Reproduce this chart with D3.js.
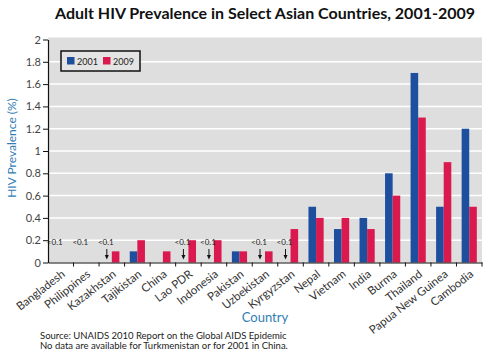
<!DOCTYPE html>
<html lang="en">
<head>
    <meta charset="UTF-8">
    <title>Adult HIV Prevalence in Select Asian Countries</title>
    <script src="https://d3js.org/d3.v7.min.js"></script>
    <style>
        body {
            margin: 0;
            background-color: white;
            font-family: Lato, "Open Sans", sans-serif;
        }
    </style>
</head>
<body>
    <div id="chart"></div>

    <script>
        // Chart data
        const countries = ["Bangladesh", "Philippines", "Kazakhstan", "Tajikistan", "China", "Lao PDR",
            "Indonesia", "Pakistan", "Uzbekistan", "Kyrgyzstan", "Nepal", "Vietnam", "India", "Burma",
            "Thailand", "Papua New Guinea", "Cambodia"];
        const years = ["2001", "2009"];
        // null = no bar drawn (either <0.1 or no data)
        const prev2001 = [null, null, null, 0.1, null, null, null, 0.1, null, null, 0.5, 0.3, 0.4, 0.8, 1.7, 0.5, 1.2];
        const prev2009 = [null, null, 0.1, 0.2, 0.1, 0.2, 0.2, 0.1, 0.1, 0.3, 0.4, 0.4, 0.3, 0.6, 1.3, 0.9, 0.5];
        // countries whose 2001 value is reported as <0.1
        const below01 = ["Bangladesh", "Philippines", "Kazakhstan", "Lao PDR", "Indonesia", "Uzbekistan", "Kyrgyzstan"];
        const yTicks = [0, 0.2, 0.4, 0.6, 0.8, 1, 1.2, 1.4, 1.6, 1.8, 2];
        const colors = {"2001": "#1d4f9e", "2009": "#da1a4f"};

        const width = 490, height = 353;
        const margin = {top: 39.5, right: 8, bottom: 90.5, left: 48};
        const innerW = width - margin.left - margin.right;
        const innerH = height - margin.top - margin.bottom;

        const svg = d3.select("#chart")
            .append("svg")
            .attr("width", width)
            .attr("height", height);

        // title
        svg.append("text")
            .attr("x", 265)
            .attr("y", 19)
            .attr("text-anchor", "middle")
            .attr("font-size", 16)
            .attr("font-weight", "bold")
            .attr("fill", "#111")
            .text("Adult HIV Prevalence in Select Asian Countries, 2001-2009");

        const g = svg.append("g")
            .attr("transform", `translate(${margin.left},${margin.top})`);

        const x0 = d3.scaleBand().domain(countries).range([0, innerW]).paddingInner(0);
        const x1 = d3.scaleBand().domain(years).range([0, x0.bandwidth()]).paddingInner(0).paddingOuter(0.68);
        const y = d3.scaleLinear().domain([0, 2]).range([innerH, 0]);

        // plot background + grid
        g.append("rect")
            .attr("x", 0)
            .attr("y", -2)
            .attr("width", innerW)
            .attr("height", innerH + 2)
            .attr("fill", "#dedede");

        g.append("g")
            .selectAll("line")
            .data(yTicks.filter(d => d > 0 && d < 2))
            .join("line")
            .attr("x1", 0)
            .attr("x2", innerW)
            .attr("y1", d => y(d))
            .attr("y2", d => y(d))
            .attr("stroke", "white")
            .attr("stroke-width", 1.5);

        // bars
        const rows = countries.map((c, i) => ({country: c, values: [
            {year: "2001", value: prev2001[i]},
            {year: "2009", value: prev2009[i]}
        ]}));

        g.append("g")
            .selectAll("g")
            .data(rows)
            .join("g")
            .attr("transform", d => `translate(${x0(d.country)},0)`)
            .selectAll("rect")
            .data(d => d.values.filter(v => v.value != null))
            .join("rect")
            .attr("x", d => x1(d.year))
            .attr("width", x1.bandwidth())
            .attr("y", d => y(d.value))
            .attr("height", d => innerH - y(d.value))
            .attr("fill", d => colors[d.year]);

        // "<0.1" notes and arrows
        const notes = g.append("g");
        below01.forEach(c => {
            const i = countries.indexOf(c);
            const cx = x0(c) + x0.bandwidth() / 2 - 5;
            notes.append("text")
                .attr("x", cx - 1)
                .attr("y", 245 - margin.top)
                .attr("text-anchor", "middle")
                .attr("font-size", 8)
                .attr("fill", "#222")
                .text("<0.1");
            if (prev2009[i] != null) {
                notes.append("line")
                    .attr("x1", cx).attr("x2", cx)
                    .attr("y1", 249 - margin.top).attr("y2", 255 - margin.top)
                    .attr("stroke", "#111").attr("stroke-width", 1);
                notes.append("path")
                    .attr("d", `M${cx - 2},${255 - margin.top}L${cx + 2},${255 - margin.top}L${cx},${259.5 - margin.top}Z`)
                    .attr("fill", "#111");
            }
        });

        // y axis
        const yAxis = g.append("g")
            .call(d3.axisLeft(y).tickValues(yTicks).tickSize(5).tickSizeOuter(0).tickFormat(d3.format("~g")));
        yAxis.select(".domain").attr("stroke", "#111").attr("stroke-width", 1.2);
        yAxis.selectAll(".tick line").attr("stroke", "#111");
        yAxis.selectAll(".tick text")
            .attr("font-family", "Lato, sans-serif")
            .attr("font-size", 11)
            .attr("fill", "#444")
            .attr("x", -7);

        // x axis
        const xAxis = g.append("g")
            .attr("transform", `translate(0,${innerH})`)
            .call(d3.axisBottom(x0).tickSize(0).tickSizeOuter(0));
        xAxis.select(".domain").attr("stroke", "#111").attr("stroke-width", 1.2);
        xAxis.selectAll(".tick text")
            .attr("font-family", "Lato, sans-serif")
            .attr("font-size", 11.5)
            .attr("fill", "#333")
            .attr("text-anchor", "end")
            .attr("x", 0)
            .attr("y", 0)
            .attr("dy", 0)
            .attr("transform", "translate(5,13) rotate(-38)");

        // tick marks at band boundaries
        xAxis.append("g")
            .selectAll("line")
            .data(countries.slice(1).concat(["end"]))
            .join("line")
            .attr("x1", (d, i) => x0.step() * (i + 1))
            .attr("x2", (d, i) => x0.step() * (i + 1))
            .attr("y1", 0)
            .attr("y2", 4)
            .attr("stroke", "#111");

        // axis titles
        svg.append("text")
            .attr("transform", `translate(16,${margin.top + innerH / 2 - 3}) rotate(-90)`)
            .attr("text-anchor", "middle")
            .attr("font-size", 12)
            .attr("fill", "#2f7db3")
            .text("HIV Prevalence (%)");

        svg.append("text")
            .attr("x", 265)
            .attr("y", 322)
            .attr("text-anchor", "middle")
            .attr("font-size", 13)
            .attr("fill", "#2f7db3")
            .text("Country");

        // legend
        const legend = svg.append("g").attr("transform", "translate(61,51)");
        legend.append("rect")
            .attr("width", 79)
            .attr("height", 20)
            .attr("fill", "#e4e4e4")
            .attr("stroke", "#111")
            .attr("stroke-width", 1.5);
        years.forEach((yr, i) => {
            legend.append("rect")
                .attr("x", 6 + i * 36)
                .attr("y", 6)
                .attr("width", 7.5)
                .attr("height", 7.5)
                .attr("fill", colors[yr]);
            legend.append("text")
                .attr("x", 16 + i * 36)
                .attr("y", 13.5)
                .attr("font-size", 9)
                .attr("fill", "#222")
                .text(yr);
        });

        // source note
        const notesText = ["Source: UNAIDS 2010 Report on the Global AIDS  Epidemic",
            "No data are available for Turkmenistan or for 2001 in China."];
        svg.append("g")
            .selectAll("text")
            .data(notesText)
            .join("text")
            .attr("x", 40)
            .attr("y", (d, i) => 339 + i * 10)
            .attr("font-size", 9.5)
            .attr("fill", "#222")
            .text(d => d);
    </script>
</body>
</html>
